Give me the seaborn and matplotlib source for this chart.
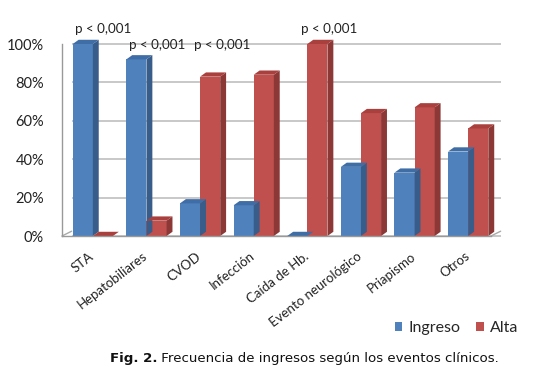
import numpy as np
import pandas as pd
import matplotlib
matplotlib.use("Agg")
import matplotlib.pyplot as plt
from matplotlib.patches import Polygon, Patch
from matplotlib.ticker import FixedLocator
import seaborn as sns

categories = ["STA", "Hepatobiliares", "CVOD", "Infección", "Caída de Hb.",
              "Evento neurológico", "Priapismo", "Otros"]
ingreso = [100, 92, 17, 16, 0, 36, 33, 44]
alta = [0, 8, 83, 84, 100, 64, 67, 56]
series_names = ["Ingreso", "Alta"]
pvalue_labels = ["p < 0,001", "p < 0,001", "p < 0,001", None, "p < 0,001", None, None, None]
yticks = [0, 20, 40, 60, 80, 100]

df = pd.DataFrame({
    "cat": categories * 2,
    "serie": [series_names[0]] * len(categories) + [series_names[1]] * len(categories),
    "val": ingreso + alta,
})

front = {"Ingreso": "#4F81BD", "Alta": "#C0504D"}
side = {"Ingreso": "#385D8A", "Alta": "#8C3836"}
top = {"Ingreso": "#3F6DA5", "Alta": "#A9403D"}
label_shift = {"Ingreso": 0.38, "Alta": 0.22}

sns.set_style("white")
plt.rcParams["font.family"] = ["Lato", "DejaVu Sans"]

fig = plt.figure(figsize=(5.35, 3.75), dpi=100)
ax = fig.add_axes([62 / 535, 139 / 375, 429 / 535, 192 / 375])

sns.barplot(data=df, x="cat", y="val", hue="serie", order=categories,
            hue_order=series_names, palette=front, width=0.75, ax=ax,
            saturation=1, legend=False, errorbar=None, linewidth=0)

n = len(categories)
ax.set_ylim(0, 100)
ax.set_xlim(-0.5, n - 0.5)
ax.set_yticks(yticks)
ax.set_yticklabels([f"{v}%" for v in yticks], fontsize=10.5, color="#222222")

# back-wall gridlines and floor edges (3D look)
dx, dy = 0.11, 2.2
wall_dx, wall_dy = 0.18, 2.5
for v in yticks:
    ax.plot([-0.5 + wall_dx, n - 0.5 + wall_dx], [v, v], color="#C4C4C4", lw=1.3,
            zorder=0, clip_on=False, solid_capstyle="butt")
ax.plot([-0.5, -0.5 + wall_dx], [0, wall_dy], color="#AAAAAA", lw=1, clip_on=False, zorder=0.5)
ax.plot([n - 0.5, n - 0.5 + wall_dx], [0, wall_dy], color="#AAAAAA", lw=1, clip_on=False, zorder=0.5)

# bars sit slightly back-right (3D projection), then side/top faces
patches = list(ax.patches)
for i, p in enumerate(patches):
    p.set_x(p.get_x() + 0.075)
    s = series_names[0] if i < n else series_names[1]
    x0, w, h = p.get_x(), p.get_width(), p.get_height()
    sidep = Polygon([(x0 + w, 0), (x0 + w, h), (x0 + w + dx, h + dy), (x0 + w + dx, dy)],
                    closed=True, facecolor=side[s], edgecolor="none", zorder=p.get_zorder())
    topp = Polygon([(x0, h), (x0 + w, h), (x0 + w + dx, h + dy), (x0 + dx, h + dy)],
                   closed=True, facecolor=top[s], edgecolor="none", zorder=p.get_zorder())
    topp.set_clip_on(False)
    sidep.set_clip_on(False)
    ax.add_patch(sidep)
    ax.add_patch(topp)

# p-value labels, near the taller bar of each group
for i, lab in enumerate(pvalue_labels):
    if lab is None:
        continue
    s = series_names[0] if ingreso[i] >= alta[i] else series_names[1]
    pi = patches[i] if s == series_names[0] else patches[n + i]
    xc = pi.get_x() + pi.get_width() / 2 + label_shift[s]
    hmax = max(ingreso[i], alta[i])
    ypos = 108 if hmax >= 100 else 99.5
    ax.text(xc, ypos, lab, ha="center", va="center", fontsize=9.6,
            color="#222222", clip_on=False)

ax.set_xlabel("")
ax.set_ylabel("")
ax.set_xticks(range(n))
ax.set_xticklabels(categories, rotation=38, ha="right", rotation_mode="anchor",
                   fontsize=9.5, color="#222222")
ax.tick_params(axis="x", which="major", length=0, pad=10)
ax.xaxis.set_minor_locator(FixedLocator(np.arange(-0.5, n, 1.0)))
ax.tick_params(axis="x", which="minor", length=4, color="#888888")
ax.tick_params(axis="y", length=4, color="#888888", pad=9)
for sp in ["top", "right"]:
    ax.spines[sp].set_visible(False)
for sp in ["left", "bottom"]:
    ax.spines[sp].set_color("#999999")
    ax.spines[sp].set_linewidth(1)

handles = [Patch(facecolor=front[s], edgecolor="none", label=s) for s in series_names]
fig.legend(handles=handles, loc="center right", bbox_to_anchor=(518 / 535, 0.125), ncol=2,
           frameon=False, fontsize=11.5, handlelength=0.5, handleheight=0.5,
           handletextpad=0.35, columnspacing=1.0, borderaxespad=0, borderpad=0)

t1 = fig.text(0.205, 0.035, "Fig. 2.", fontsize=9.6, fontweight="bold", color="#111111",
              family="DejaVu Sans")
ax.annotate(" Frecuencia de ingresos según los eventos clínicos.", xy=(1, 0),
            xycoords=t1, va="bottom", ha="left", fontsize=9.6, color="#111111",
            family="DejaVu Sans", annotation_clip=False)

fig.savefig("out.png", dpi=100)
